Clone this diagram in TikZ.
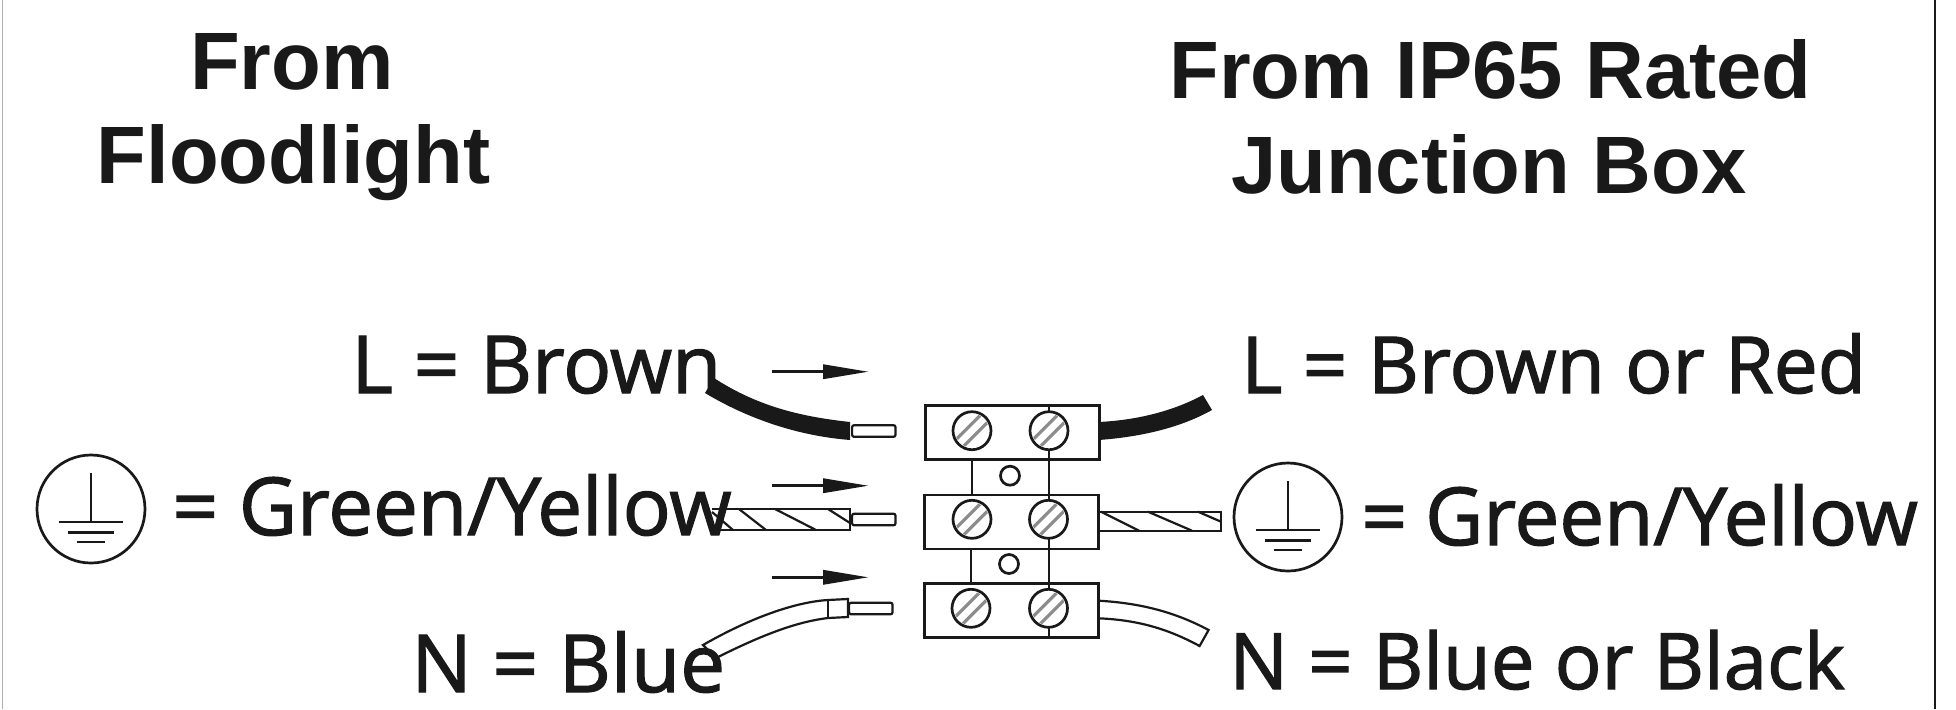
\documentclass[tikz,border=0pt]{standalone}
\usepackage{fontspec}
\setmainfont{Open Sans}[FakeBold=1.6]
\newfontfamily\headfont{Liberation Sans}[BoldFont={Liberation Sans Bold}]
\usetikzlibrary{calc}
\definecolor{ink}{gray}{0.1}
\tikzset{
  x=0.5pt,y=-0.5pt,
  line/.style={draw=ink,line width=1.35pt},
  thin line/.style={draw=ink,line width=1.1pt},
  head/.style={font=\headfont\bfseries\fontsize{40.7}{41}\selectfont,text=ink,anchor=base,inner sep=0pt},
  lab/.style={font=\fontsize{#1}{41}\selectfont,text=ink,anchor=base west,inner sep=0pt},
  lab/.default=40,
  block/.style={line,fill=white,minimum width=87pt,minimum height=27pt,inner sep=0pt,anchor=north west},
  screw/.style={circle,line,minimum size=19pt,inner sep=0pt},
  hole/.style={circle,line,minimum size=9.5pt,inner sep=0pt},
  bare/.style={thin line,fill=white,minimum width=21.7pt,minimum height=5.8pt,inner sep=0pt,rounded corners=1pt,anchor=west},
  pointer/.style={draw=ink,line width=1.3pt},
  tip/.style={fill=ink,draw=none},
  earth/.style={circle,line,minimum size=54pt,inner sep=0pt},
}
\newcommand{\slashes}[1]{%
  \foreach \d in {-3.6,3.6}
    \draw[draw=ink!50,line width=1.6pt] ($(#1)+(-20+\d,20+\d)$) -- ($(#1)+(20+\d,-20+\d)$);
}
\newcommand{\earthmark}[2]{% name, radius
  \coordinate (#1top) at ($(#1)+(0,-#2*0.67)$);
  \coordinate (#1bar) at ($(#1)+(0,#2*0.24)$);
  \draw[thin line] (#1top) -- (#1bar);
  \draw[line] ($(#1bar)+(-#2*0.6,0)$) -- ($(#1bar)+(#2*0.6,0)$);
  \draw[line] ($(#1bar)+(-#2*0.43,#2*0.2)$) -- ($(#1bar)+(#2*0.43,#2*0.2)$);
  \draw[line] ($(#1bar)+(-#2*0.26,#2*0.37)$) -- ($(#1bar)+(#2*0.26,#2*0.37)$);
}
\begin{document}
\begin{tikzpicture}
\useasboundingbox (0,0) rectangle (1956,709);
\fill[white] (0,0) rectangle (1956,709);
% frame
\coordinate (fl0) at (2,0); \coordinate (fl1) at (2,709);
\coordinate (fr0) at (1935,0); \coordinate (fr1) at (1935,709);
\draw[draw=ink!35,line width=0.5pt] (fl0) -- (fl1);
\draw[draw=ink,line width=1.2pt] (fr0) -- (fr1);
% left wires
\fill[ink] (714,378) .. controls (760,408) and (805,417) .. (850,422)
  -- (850,440) .. controls (800,436) and (750,420) .. (705,393) -- cycle;
\node[bare] (s1) at (851,431) {};
\draw[thin line] (712,509) -- (850,509) -- (850,530) -- (712,530);
\foreach \a/\b/\c/\d in {712/512/733/530,739/509/766/530,775/509/816/530,828/509/850/523}
  \draw[thin line] (\a,\b) -- (\c,\d);
\node[bare] (s2) at (851,519.5) {};
\draw[thin line,fill=white] (703,645) .. controls (750,618) and (795,602) .. (828,600) -- (848,599)
  -- (848,617) -- (828,618) .. controls (795,622) and (760,636) .. (716,658) -- cycle;
\draw[thin line] (828,600) -- (828,618);
\node[bare] (s3) at (848,608.5) {};
% right wires
\fill[ink] (1098.6,422) .. controls (1140,420) and (1175,410) .. (1203,395)
  -- (1212,410) .. controls (1180,428) and (1140,437) .. (1098.6,440) -- cycle;
\draw[thin line] (1098.6,511.7) rectangle (1221,530.7);
\foreach \a/\b/\c/\d in {1101/511.7/1139/530.7,1148/511.7/1192/530.7,1198/511.7/1221/521.7}
  \draw[thin line] (\a,\b) -- (\c,\d);
\draw[thin line,fill=white] (1098.6,600.7) .. controls (1140,603) and (1175,612) .. (1208.6,630)
  -- (1199.6,646) .. controls (1170,630) and (1140,620) .. (1098.6,618.3);
% headings
\node[head] (h1) at (292,89) {From};
\node[head] (h2) at (293.5,183) {Floodlight};
\node[head] (h3) at (1490.5,98) {From IP65 Rated};
\node[head] (h4) at (1489,193) {Junction Box};
% labels
\node[lab] (l1) at (351,393) {L = Brown};
\node[lab] (l2) at (172,535) {= Green/Yellow};
\node[lab] (l3) at (411,692) {N = Blue};
\node[lab=39.3] (r1) at (1241,393) {L = Brown or Red};
\node[lab] (r2) at (1361,545) {=\kern9pt Green/Yellow};
\node[lab=38.9] (r3) at (1229,689) {N = Blue or Black};
% earth symbols
\node[earth] (e1) at (91,509) {};
\earthmark{e1}{54}
\node[earth] (e2) at (1288,517) {};
\earthmark{e2}{54}
% terminal blocks and links
\node[block] (b1) at (924,404) {};
\node[block] (b2) at (923,493.5) {};
\node[block] (b3) at (923,582) {};
\coordinate (v1) at (972,404); \coordinate (v2) at (1049,404);
\coordinate (v3) at (971,636);
\draw[line] (v1|-b1.south) -- (v1|-b2.north);
\draw[line] (v2|-b1.north) -- (v2|-b3.south);
\draw[line] (v3|-b2.south) -- (v3|-b3.north);
% screws
\foreach \n/\x/\y in {a/972/430.7,b/1049/430.7,c/972/519.3,d/1048.5/519.3,e/971/608.3,f/1048.5/608.3}{
  \node[screw,fill=white] (\n) at (\x,\y) {};
  \begin{scope}
    \clip (\x,\y) circle (17);
    \slashes{\n}
  \end{scope}
}
\node[hole] (o1) at (1010,475.7) {};
\node[hole] (o2) at (1009,564) {};
% arrows
\foreach \n/\y in {1/371.7,2/485.7,3/577.3}{
  \coordinate (as\n) at (772,\y);
  \coordinate (am\n) at (823,\y);
  \coordinate (ae\n) at (868,\y);
  \draw[pointer] (as\n) -- (am\n);
  \fill[tip] ($(am\n)+(0,-7.5)$) -- (ae\n) -- ($(am\n)+(0,7.5)$) -- cycle;
}
\end{tikzpicture}
\end{document}
